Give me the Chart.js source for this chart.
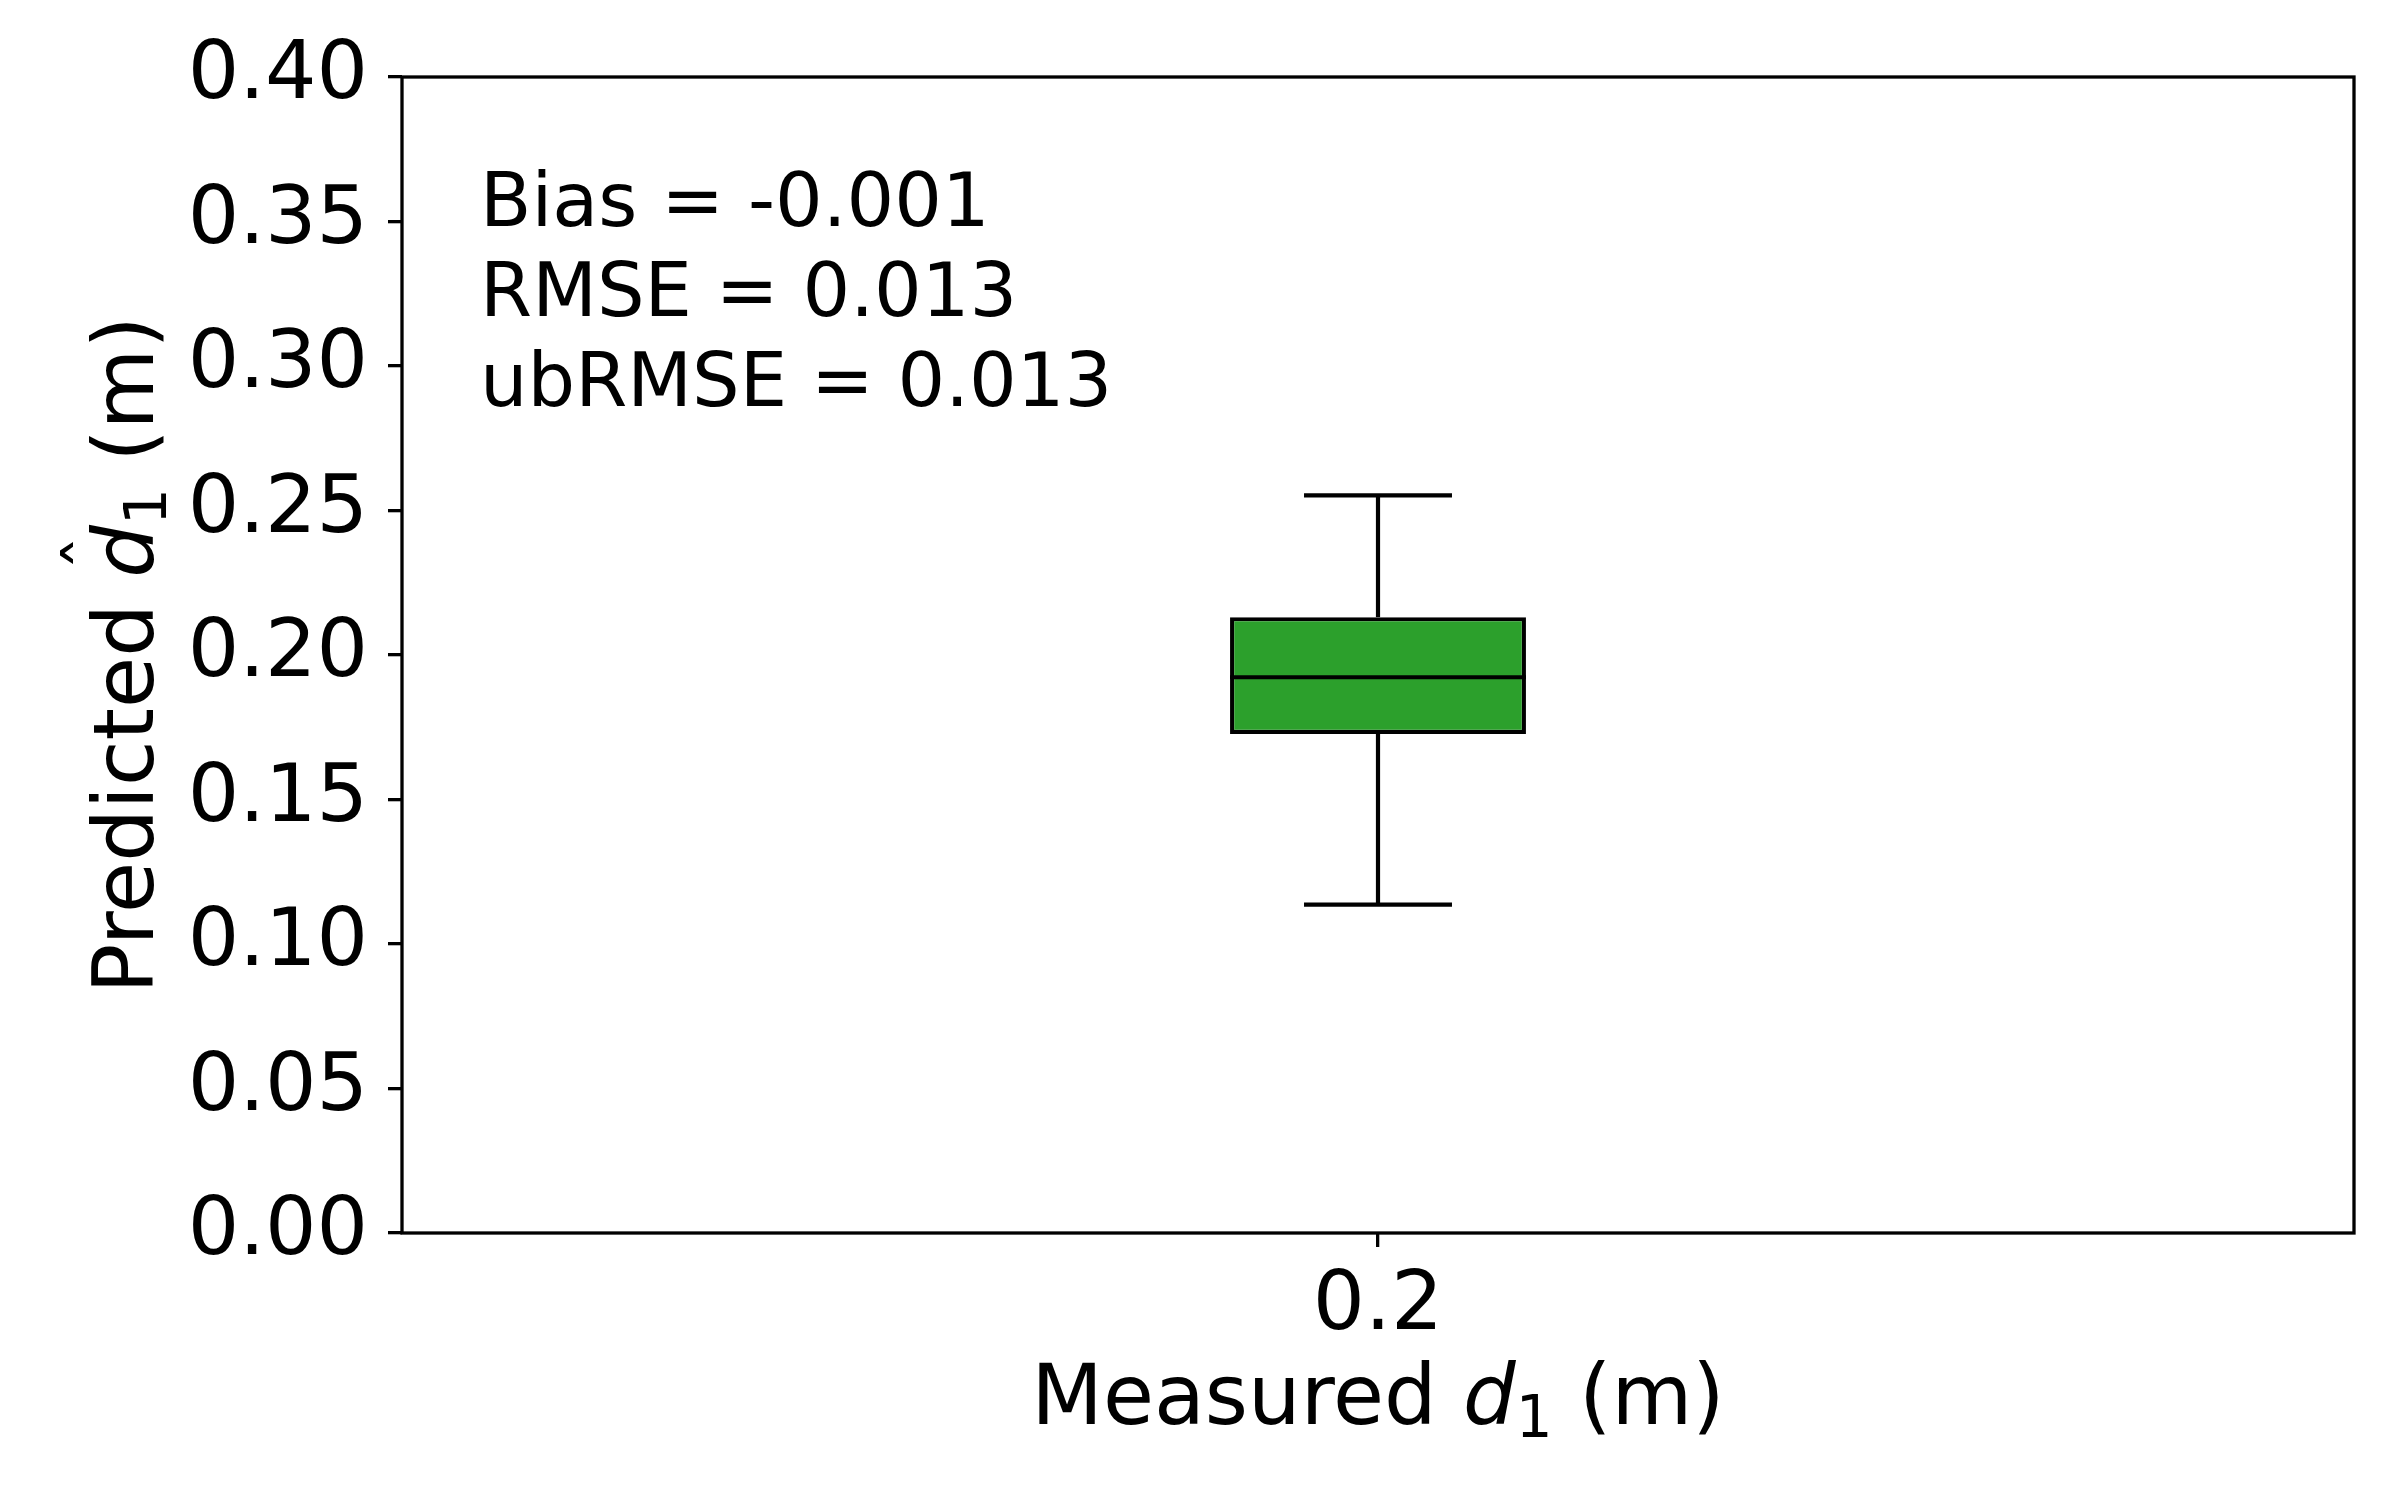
<!DOCTYPE html>
<html>
<head>
<meta charset="utf-8">
<script src="https://cdn.jsdelivr.net/npm/chart.js@4.4.1/dist/chart.umd.min.js"></script>
<style>
  html, body { margin: 0; padding: 0; background: #fff; }
  #chart { display: block; }
</style>
</head>
<body>
<canvas id="chart" width="2400" height="1500" style="width:2400px;height:1500px"></canvas>
<script>
// ─── Data ────────────────────────────────────────────────────────────────────
const categories = ['0.2'];
const whiskerLow = [0.1136];
const quartile1 = [0.1727];
const medians = [0.1923];
const quartile3 = [0.2131];
const whiskerHigh = [0.2552];
const yTicks = [0, 0.05, 0.10, 0.15, 0.20, 0.25, 0.30, 0.35, 0.40];
const statLines = ['Bias = -0.001', 'RMSE = 0.013', 'ubRMSE = 0.013'];

const FONT = '"DejaVu Sans", sans-serif';
const boxColor = '#2ca02c';

// ─── Helpers ─────────────────────────────────────────────────────────────────
// draws "<pre> d_1 (m)" with italic d, optional hat, subscript 1
function drawMathLabel(ctx, pre, hat, size) {
    const parts = [
        { t: pre, f: `${size}px ${FONT}`, dy: 0 },
        { t: 'd', f: `italic ${size}px ${FONT}`, dy: 0, hat: hat },
        { t: '1', f: `${Math.round(size * 0.7)}px ${FONT}`, dy: size * 0.16 },
        { t: ' (m)', f: `${size}px ${FONT}`, dy: 0 }
    ];
    let total = 0;
    parts.forEach(p => { ctx.font = p.f; p.w = ctx.measureText(p.t).width; total += p.w; });
    let x = -total / 2;
    ctx.textAlign = 'left';
    ctx.textBaseline = 'alphabetic';
    parts.forEach(p => {
        ctx.font = p.f;
        ctx.fillText(p.t, x, p.dy);
        if (p.hat) {
            ctx.font = `70px ${FONT}`;
            ctx.textAlign = 'center';
            ctx.fillText('\u02C6', x + p.w * 0.47, -37);
            ctx.textAlign = 'left';
        }
        x += p.w;
    });
}

// ─── Box plot pieces drawn through the scales ────────────────────────────────
const boxPlugin = {
    id: 'boxParts',
    beforeDatasetsDraw(chart) {
        const { ctx, scales: { x, y } } = chart;
        const bar = chart.getDatasetMeta(0).data[0];
        const cap = bar.width / 4;
        ctx.save();
        ctx.strokeStyle = '#000';
        ctx.lineWidth = 4.2;
        categories.forEach((c, i) => {
            const cx = x.getPixelForValue(i);
            const segs = [[whiskerLow[i], quartile1[i]], [quartile3[i], whiskerHigh[i]]];
            segs.forEach(([a, b]) => {
                ctx.beginPath();
                ctx.moveTo(cx, y.getPixelForValue(a));
                ctx.lineTo(cx, y.getPixelForValue(b));
                ctx.stroke();
            });
            [whiskerLow[i], whiskerHigh[i]].forEach(v => {
                const py = y.getPixelForValue(v);
                ctx.beginPath();
                ctx.moveTo(cx - cap, py);
                ctx.lineTo(cx + cap, py);
                ctx.stroke();
            });
        });
        ctx.restore();
    },
    afterDatasetsDraw(chart) {
        const { ctx, scales: { x, y } } = chart;
        const bar = chart.getDatasetMeta(0).data[0];
        const half = bar.width / 2;
        ctx.save();
        ctx.strokeStyle = '#000';
        ctx.lineWidth = 4.2;
        categories.forEach((c, i) => {
            const cx = x.getPixelForValue(i);
            const py = y.getPixelForValue(medians[i]);
            ctx.beginPath();
            ctx.moveTo(cx - half, py);
            ctx.lineTo(cx + half, py);
            ctx.stroke();
        });
        ctx.restore();
    },
    afterDraw(chart) {
        const { ctx, chartArea: a } = chart;
        ctx.save();
        // frame
        ctx.strokeStyle = '#000';
        ctx.lineWidth = 3.3;
        ctx.strokeRect(a.left, a.top, a.right - a.left, a.bottom - a.top);

        // stats text
        ctx.fillStyle = '#000';
        ctx.font = `75px ${FONT}`;
        ctx.textAlign = 'left';
        ctx.textBaseline = 'alphabetic';
        const tx = a.left + 0.04 * (a.right - a.left);
        statLines.forEach((s, i) => ctx.fillText(s, tx, 226 + i * 90));

        // x title
        ctx.save();
        ctx.translate((a.left + a.right) / 2, 1424);
        drawMathLabel(ctx, 'Measured ', false, 83);
        ctx.restore();

        // y title
        ctx.save();
        ctx.translate(153, (a.top + a.bottom) / 2);
        ctx.rotate(-Math.PI / 2);
        drawMathLabel(ctx, 'Predicted ', true, 83);
        ctx.restore();

        ctx.restore();
    }
};

// ─── Chart ───────────────────────────────────────────────────────────────────
const ctx = document.getElementById('chart').getContext('2d');
new Chart(ctx, {
    type: 'bar',
    data: {
        labels: categories,
        datasets: [{
            data: categories.map((c, i) => [quartile1[i], quartile3[i]]),
            backgroundColor: boxColor,
            borderColor: '#000',
            borderWidth: 4.2,
            borderSkipped: false,
            barPercentage: 0.1516,
            categoryPercentage: 1
        }]
    },
    options: {
        responsive: false,
        animation: false,
        layout: { padding: { left: 0, right: 46, top: 77, bottom: 0 } },
        plugins: { legend: { display: false }, tooltip: { enabled: false } },
        scales: {
            x: {
                grid: { offset: false, drawOnChartArea: false, drawTicks: true, tickLength: 14, lineWidth: 3.3, color: '#000' },
                border: { display: false },
                ticks: { color: '#000', font: { family: FONT, size: 82 }, padding: 12, maxRotation: 0 },
                afterFit: s => { s.height = 267; }
            },
            y: {
                min: 0,
                max: 0.4,
                afterBuildTicks: s => { s.ticks = yTicks.map(v => ({ value: v })); },
                grid: { drawOnChartArea: false, drawTicks: true, tickLength: 14, lineWidth: 3.3, color: '#000' },
                border: { display: false },
                ticks: { color: '#000', font: { family: FONT, size: 81 }, padding: 20, callback: v => v.toFixed(2) },
                afterFit: s => { s.width = 402; }
            }
        }
    },
    plugins: [boxPlugin]
});
</script>
</body>
</html>
